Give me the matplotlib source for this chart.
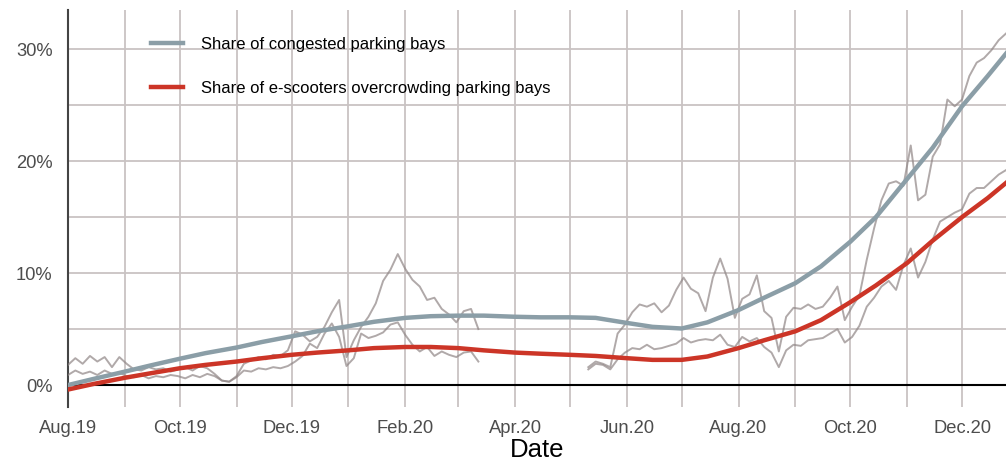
import matplotlib
matplotlib.use("Agg")
import matplotlib.pyplot as plt
import matplotlib.dates as mdates
from matplotlib.ticker import FixedLocator, FuncFormatter
import numpy as np
import pandas as pd

plt.rcParams['font.family'] = ['Liberation Sans', 'DejaVu Sans']

# Raw daily shares (read every 4 days), NaN = no data (spring 2020)
raw_dates = pd.date_range("2019-08-01", periods=129, freq="4D")
congested_raw = [
    1.8, 2.4, 1.9, 2.6, 2.1, 2.5, 1.6, 2.5, 1.9, 1.4,
    1.3, 1.6, 1.4, 1.5, 1.2, 1.4, 1.6, 1.3, 1.7, 1.5,
    1.0, 0.4, 0.3, 0.8, 1.9, 2.2, 2.5, 2.3, 2.7, 2.6,
    3.1, 4.8, 4.5, 3.9, 4.3, 5.2, 6.5, 7.6, 2.5, 4.0,
    5.2, 6.1, 7.3, 9.3, 10.3, 11.7, 10.4, 9.4, 8.8, 7.6,
    7.8, 6.8, 6.3, 5.6, 6.6, 6.8, 5.0,
    np.nan, np.nan, np.nan, np.nan, np.nan, np.nan, np.nan,
    np.nan, np.nan, np.nan, np.nan, np.nan, np.nan, np.nan,
    1.6, 2.1, 1.9, 1.6, 4.6, 5.4, 6.5, 7.2, 7.0, 7.3,
    6.5, 7.1, 8.5, 9.6, 8.6, 8.2, 6.6, 9.6, 11.3, 9.5,
    6.0, 7.7, 8.1, 9.8, 6.6, 6.0, 3.0, 6.1, 6.9, 6.8,
    7.2, 6.8, 7.0, 7.8, 8.8, 5.8, 7.0, 8.0, 11.2, 14.0,
    16.5, 18.0, 18.2, 17.8, 21.4, 16.5, 17.0, 20.4, 21.5, 25.5,
    24.9, 25.5, 27.6, 28.8, 29.2, 29.9, 30.8, 31.4,
]
scooter_raw = [
    0.9, 1.3, 1.0, 1.2, 0.9, 1.3, 1.0, 1.1, 0.8, 0.7,
    0.9, 0.6, 0.8, 0.7, 0.9, 0.8, 0.6, 0.9, 0.7, 1.0,
    0.8, 0.4, 0.3, 0.7, 1.3, 1.2, 1.5, 1.4, 1.6, 1.5,
    1.7, 2.1, 2.6, 3.7, 3.3, 4.6, 5.5, 4.3, 1.7, 2.4,
    4.6, 4.2, 4.4, 4.7, 5.4, 5.6, 4.5, 3.6, 3.0, 3.4,
    2.6, 3.0, 2.7, 2.5, 2.9, 3.0, 2.1,
    np.nan, np.nan, np.nan, np.nan, np.nan, np.nan, np.nan,
    np.nan, np.nan, np.nan, np.nan, np.nan, np.nan, np.nan,
    1.4, 1.9, 1.8, 1.4, 2.3, 2.9, 3.3, 3.2, 3.6, 3.2,
    3.3, 3.5, 3.7, 4.2, 3.8, 4.0, 4.1, 4.0, 4.5, 3.6,
    3.4, 4.3, 3.9, 4.2, 3.4, 2.9, 1.6, 3.1, 3.6, 3.5,
    4.0, 4.1, 4.2, 4.6, 5.0, 3.8, 4.3, 5.3, 7.0, 7.8,
    8.8, 9.3, 8.5, 10.7, 12.2, 9.6, 11.0, 13.0, 14.6, 15.0,
    15.4, 15.7, 17.1, 17.6, 17.6, 18.2, 18.8, 19.2,
]

# Smoothed trends (1st and 15th of each month)
trend_dates = pd.to_datetime([
    "2019-08-01", "2019-08-15", "2019-09-01", "2019-09-15", "2019-10-01", "2019-10-15",
    "2019-11-01", "2019-11-15", "2019-12-01", "2019-12-15", "2020-01-01", "2020-01-15",
    "2020-02-01", "2020-02-15", "2020-03-01", "2020-03-15", "2020-04-01", "2020-04-15",
    "2020-05-01", "2020-05-15", "2020-06-01", "2020-06-15", "2020-07-01", "2020-07-15",
    "2020-08-01", "2020-08-15", "2020-09-01", "2020-09-15", "2020-10-01", "2020-10-15",
    "2020-11-01", "2020-11-15", "2020-12-01", "2020-12-15", "2021-01-01",
])
congested_trend = [
    0.0, 0.55, 1.2, 1.75, 2.35, 2.85, 3.35, 3.85, 4.35, 4.8, 5.25, 5.65,
    6.0, 6.15, 6.2, 6.2, 6.1, 6.05, 6.05, 6.0, 5.55, 5.2, 5.05, 5.6,
    6.7, 7.8, 9.1, 10.6, 12.8, 15.0, 18.4, 21.2, 24.9, 27.6, 31.0,
]
scooter_trend = [
    -0.4, 0.1, 0.65, 1.05, 1.5, 1.8, 2.1, 2.4, 2.7, 2.9, 3.1, 3.3,
    3.4, 3.4, 3.3, 3.1, 2.9, 2.8, 2.7, 2.6, 2.4, 2.25, 2.25, 2.55,
    3.3, 4.0, 4.8, 5.8, 7.4, 8.9, 10.9, 12.9, 15.0, 16.7, 19.0,
]

fig = plt.figure(figsize=(10.06, 4.66), dpi=100)
ax = fig.add_axes([0.0676, 0.1266, 0.9324, 0.852])

ax.set_xlim(pd.Timestamp("2019-08-01"), pd.Timestamp("2020-12-25"))
ax.set_ylim(-1.96, 33.5)

# grid
ax.xaxis.set_major_locator(mdates.MonthLocator(bymonth=[2, 4, 6, 8, 10, 12]))
ax.xaxis.set_minor_locator(mdates.MonthLocator())
ax.xaxis.set_major_formatter(mdates.DateFormatter("%b.%y"))
ax.yaxis.set_major_locator(FixedLocator([0, 10, 20, 30]))
ax.yaxis.set_minor_locator(FixedLocator([5, 15, 25]))
ax.yaxis.set_major_formatter(FuncFormatter(lambda v, p: f"{v:.0f}%"))
ax.grid(True, which="both", color="#c9c3c3", linewidth=1.3)
ax.set_axisbelow(True)

ax.tick_params(which="both", length=0, labelsize=13.2, labelcolor="#4d4d4d")
ax.tick_params(axis="x", pad=9)
ax.tick_params(axis="y", pad=11)

for s in ["top", "right", "bottom"]:
    ax.spines[s].set_visible(False)
ax.spines["left"].set_color("#444444")
ax.spines["left"].set_linewidth(1.5)

ax.axhline(0, color="black", linewidth=1.5, zorder=2)

# raw series
ax.plot(raw_dates, congested_raw, color="#8f8585", alpha=0.7, linewidth=1.4, zorder=3)
ax.plot(raw_dates, scooter_raw, color="#8f8585", alpha=0.7, linewidth=1.4, zorder=3)

# trends
ax.plot(trend_dates, congested_trend, color="#8b9ea7", linewidth=3.2,
        solid_joinstyle="round", zorder=4, label="Share of congested parking bays")
ax.plot(trend_dates, scooter_trend, color="#cc3527", linewidth=3.2,
        solid_joinstyle="round", zorder=4, label="Share of e-scooters overcrowding parking bays")

ax.set_xlabel("Date", fontsize=18.5, labelpad=1)

leg = ax.legend(loc="upper left", bbox_to_anchor=(0.073, 0.97), frameon=False,
                fontsize=12, handlelength=1.9, handletextpad=1.1, labelspacing=1.75)

fig.savefig("out.png", dpi=100)
